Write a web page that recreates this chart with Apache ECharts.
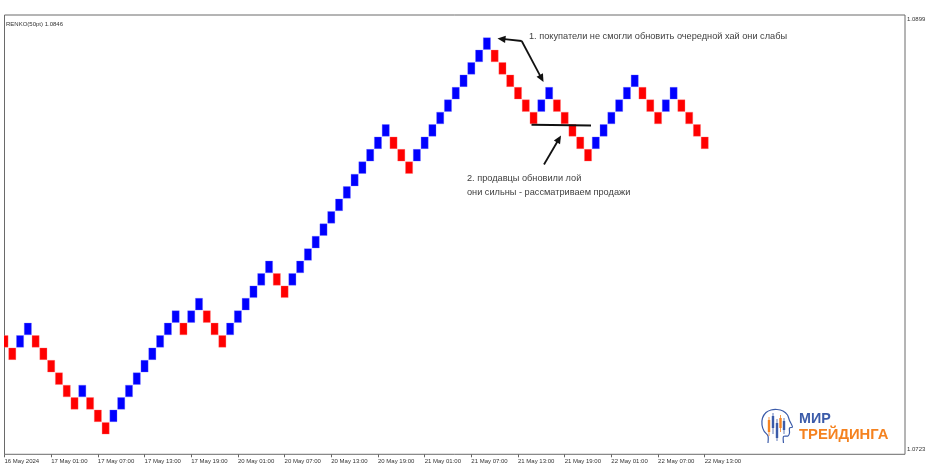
<!DOCTYPE html>
<html>
<head>
<meta charset="utf-8">
<script src="https://cdn.jsdelivr.net/npm/echarts@6/dist/echarts.min.js"></script>
<style>
html,body{margin:0;padding:0;background:#fff;}
#chart{width:937px;height:476px;}
</style>
</head>
<body>
<div id="chart"></div>
<script>
// Renko bricks (50pt = 0.0005): close price of each brick and its direction (1 up / -1 down)
var brickSize = 0.0005;
var brickClose = [
  1.0766,1.0761,1.0771,1.0776,1.0766,1.0761,1.0756,1.0751,1.0746,1.0741,
  1.0751,1.0741,1.0736,1.0731,1.0741,1.0746,1.0751,1.0756,1.0761,1.0766,
  1.0771,1.0776,1.0781,1.0771,1.0781,1.0786,1.0776,1.0771,1.0766,1.0776,
  1.0781,1.0786,1.0791,1.0796,1.0801,1.0791,1.0786,1.0796,1.0801,1.0806,
  1.0811,1.0816,1.0821,1.0826,1.0831,1.0836,1.0841,1.0846,1.0851,1.0856,
  1.0846,1.0841,1.0836,1.0846,1.0851,1.0856,1.0861,1.0866,1.0871,1.0876,
  1.0881,1.0886,1.0891,1.0881,1.0876,1.0871,1.0866,1.0861,1.0856,1.0866,
  1.0871,1.0861,1.0856,1.0851,1.0846,1.0841,1.0851,1.0856,1.0861,1.0866,
  1.0871,1.0876,1.0866,1.0861,1.0856,1.0866,1.0871,1.0861,1.0856,1.0851,
  1.0846
];
var brickDir = [
  -1,-1, 1, 1,-1,-1,-1,-1,-1,-1,
   1,-1,-1,-1, 1, 1, 1, 1, 1, 1,
   1, 1, 1,-1, 1, 1,-1,-1,-1, 1,
   1, 1, 1, 1, 1,-1,-1, 1, 1, 1,
   1, 1, 1, 1, 1, 1, 1, 1, 1, 1,
  -1,-1,-1, 1, 1, 1, 1, 1, 1, 1,
   1, 1, 1,-1,-1,-1,-1,-1,-1, 1,
   1,-1,-1,-1,-1,-1, 1, 1, 1, 1,
   1, 1,-1,-1,-1, 1, 1,-1,-1,-1,
  -1
];
var tickLabels = [
  '16 May 2024','17 May 01:00','17 May 07:00','17 May 13:00','17 May 19:00',
  '20 May 01:00','20 May 07:00','20 May 13:00','20 May 19:00','21 May 01:00',
  '21 May 07:00','21 May 13:00','21 May 19:00','22 May 01:00','22 May 07:00',
  '22 May 13:00'
];
var tickEvery = 6;
var priceLabels = [1.0723, 1.0899];
var titleText = 'RENKO(50pt) 1.0846';
var note1 = '1. покупатели не смогли обновить очередной хай они слабы';
var note2a = '2. продавцы обновили лой';
var note2b = 'они сильны - рассматриваем продажи';

var data = brickClose.map(function (c, i) {
  var o = c - brickDir[i] * brickSize;
  return [i, o, c, brickDir[i]];
});
var tickVals = tickLabels.map(function (_, i) { return i * tickEvery; });

var chart = echarts.init(document.getElementById('chart'), null, {renderer: 'canvas'});

function arrow(x1, y1, x2, y2) {
  var dx = x2 - x1, dy = y2 - y1, L = Math.sqrt(dx * dx + dy * dy);
  var ux = dx / L, uy = dy / L, hl = 8, hw = 3.6;
  var bx = x2 - ux * hl, by = y2 - uy * hl;
  return [
    {type: 'line', shape: {x1: x1, y1: y1, x2: bx + ux * 1, y2: by + uy * 1},
     style: {stroke: '#111', lineWidth: 1.8}, z: 100},
    {type: 'polygon', shape: {points: [[x2, y2], [bx - uy * hw, by + ux * hw], [bx + uy * hw, by - ux * hw]]},
     style: {fill: '#111'}, z: 100}
  ];
}

var graphics = [];
graphics = graphics.concat(arrow(521.7, 41, 497.5, 38.5));
graphics = graphics.concat(arrow(521.7, 41, 543.5, 82));
graphics = graphics.concat(arrow(544, 164.5, 561, 135.5));
graphics.push({type: 'line', shape: {x1: 531.5, y1: 124.8, x2: 591, y2: 125.6},
  style: {stroke: '#111', lineWidth: 2}, z: 100});
var noteFont = '9.2px "Liberation Sans"';
graphics.push({type: 'text', x: 529, y: 36, z: 100,
  style: {text: note1, font: noteFont, fill: '#404040', textVerticalAlign: 'middle'}});
graphics.push({type: 'text', x: 467, y: 178, z: 100,
  style: {text: note2a, font: noteFont, fill: '#404040', textVerticalAlign: 'middle'}});
graphics.push({type: 'text', x: 467, y: 192.5, z: 100,
  style: {text: note2b, font: noteFont, fill: '#404040', textVerticalAlign: 'middle'}});

// logo
var logoBlue = '#3b5ba9', logoOrange = '#f5821f';
graphics.push({type: 'polyline', z: 100, shape: {
  points: [[768, 443], [768, 436], [764, 431], [762, 425], [762.5, 418], [766, 412.5], [771, 410], [777, 409.5], [783, 411], [787.5, 415], [789.5, 420.5], [792.5, 427], [789.5, 428], [789.5, 433], [788, 436], [783.5, 436.5], [783.5, 443]],
  smooth: 0.25},
  style: {stroke: logoBlue, lineWidth: 1.2, fill: null}});
var candles = [[769, 420, 432, 417, 436, logoOrange], [773, 416, 428, 413, 434, logoBlue], [777, 423, 438, 419, 441, logoBlue], [780.5, 418, 428, 415, 432, logoOrange], [784, 421, 430, 418, 434, logoBlue]];
candles.forEach(function (c) {
  graphics.push({type: 'line', z: 100, shape: {x1: c[0], y1: c[3], x2: c[0], y2: c[4]}, style: {stroke: c[5], lineWidth: 0.8}});
  graphics.push({type: 'rect', z: 100, shape: {x: c[0] - 1.2, y: c[1], width: 2.4, height: c[2] - c[1]}, style: {fill: c[5]}});
});
graphics.push({type: 'text', x: 799, y: 419.5, z: 100,
  style: {text: 'МИР', font: 'bold 14.3px "Liberation Sans"', fill: logoBlue, textVerticalAlign: 'middle'}});
graphics.push({type: 'text', x: 799, y: 435, z: 100,
  style: {text: 'ТРЕЙДИНГА', font: 'bold 14.8px "Liberation Sans"', fill: logoOrange, textVerticalAlign: 'middle'}});

var option = {
  animation: false,
  backgroundColor: '#ffffff',
  textStyle: {fontFamily: 'Liberation Sans'},
  title: {
    text: titleText, left: 6, top: 21, padding: 0,
    textStyle: {fontSize: 6, fontWeight: 'normal', color: '#333', fontFamily: 'Liberation Sans'}
  },
  grid: {
    left: 4.5, right: 32, top: 15, bottom: 21.7,
    show: true, borderColor: '#6a6a6a', borderWidth: 1, backgroundColor: '#fff'
  },
  xAxis: {
    type: 'value', min: 0, max: 115.74,
    axisLine: {show: false},
    splitLine: {show: false},
    axisTick: {show: true, customValues: tickVals, length: 3, lineStyle: {color: '#666'}},
    axisLabel: {
      customValues: tickVals, align: 'left', margin: 4, fontSize: 6, color: '#333',
      fontFamily: 'Liberation Sans',
      formatter: function (v) { return tickLabels[Math.round(v / tickEvery)] || ''; }
    }
  },
  yAxis: {
    type: 'value', position: 'right', min: 1.0723, max: 1.0900, scale: true,
    axisLine: {show: false}, axisTick: {show: false}, splitLine: {show: false},
    axisLabel: {
      customValues: priceLabels, margin: 2, fontSize: 6, color: '#333', fontFamily: 'Liberation Sans',
      formatter: function (v) {
        var s = v.toFixed(4);
        return v < 1.08 ? '{b|' + s + '}' : '{t|' + s + '}';
      },
      rich: {
        t: {fontSize: 6, color: '#333', padding: [3, 0, 0, 0]},
        b: {fontSize: 6, color: '#333', padding: [0, 0, 10, 0]}
      }
    }
  },
  series: [{
    type: 'custom',
    clip: true,
    data: data,
    renderItem: function (params, api) {
      var x = api.value(0), o = api.value(1), c = api.value(2), d = api.value(3);
      var p1 = api.coord([x, Math.max(o, c)]);
      var p2 = api.coord([x, Math.min(o, c)]);
      var w = api.size([1, 0])[0] * 0.92;
      var h = p2[1] - p1[1];
      return {
        type: 'rect',
        shape: {x: p1[0] - w / 2, y: p1[1] + 0.35, width: w, height: h - 0.7},
        style: {fill: d > 0 ? '#0000ff' : '#ff0000', stroke: d > 0 ? 'rgba(110,110,255,0.55)' : 'rgba(255,120,120,0.55)', lineWidth: 0.6}
      };
    }
  }],
  graphic: graphics
};
chart.setOption(option);
</script>
</body>
</html>
